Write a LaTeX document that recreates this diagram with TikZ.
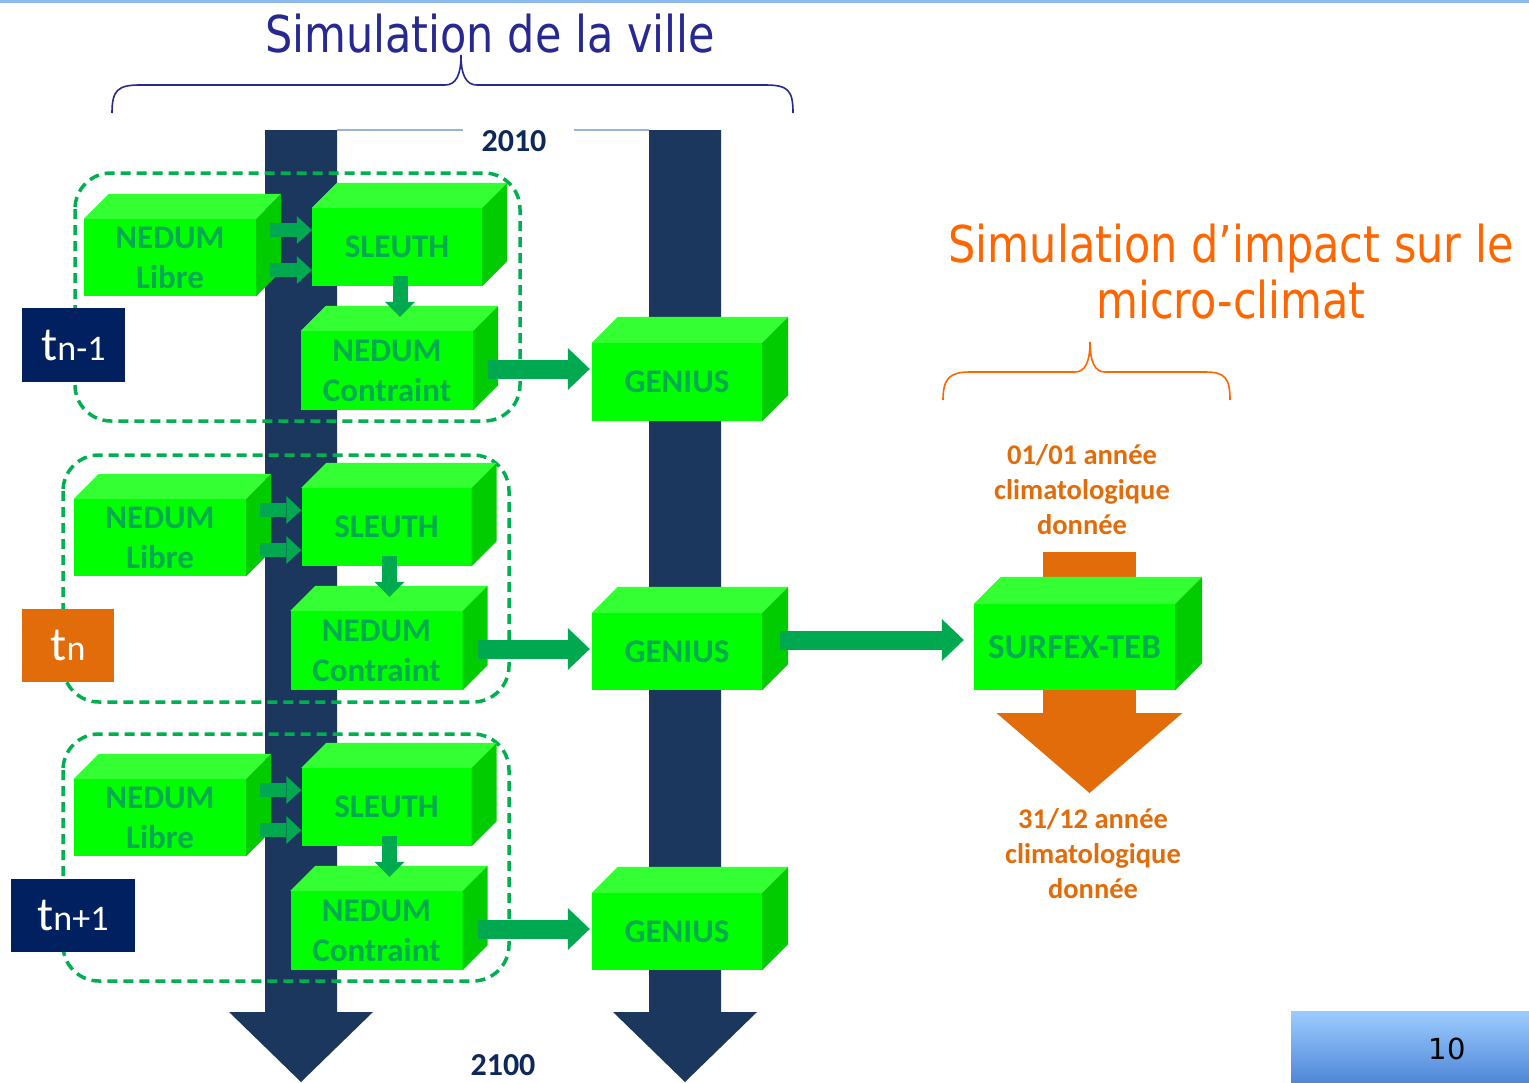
\documentclass[tikz,border=0pt]{standalone}
\usepackage{fontspec}
\setmainfont{Carlito}
\newfontfamily\headfont{DejaVu Sans}
\usetikzlibrary{arrows.meta}

\definecolor{navybar}{RGB}{27,55,94}
\definecolor{labelnavy}{RGB}{0,32,96}
\definecolor{labelorange}{RGB}{227,108,10}
\definecolor{titleorange}{RGB}{255,102,0}
\definecolor{titleblue}{RGB}{40,40,145}
\definecolor{dashgreen}{RGB}{0,176,80}
\definecolor{arrgreen}{RGB}{0,168,80}
\definecolor{boxfront}{RGB}{0,255,0}
\definecolor{boxtop}{RGB}{51,255,51}
\definecolor{boxside}{RGB}{0,204,0}
\definecolor{boxtext}{RGB}{0,170,80}
\definecolor{yearnavy}{RGB}{15,40,90}
\definecolor{joinline}{RGB}{150,178,220}
\definecolor{topline}{RGB}{140,185,240}

% 3D box: name, centre x, centre y, width, height, depth, text
\newcommand\cubebox[7]{%
  \node[cubefront, minimum width=#4pt, minimum height=#5pt] (#1) at (#2,#3) {#7};
  \fill[boxtop] (#1.north west) -- ([shift={(#6,-#6)}]#1.north west)
    -- ([shift={(#6,-#6)}]#1.north east) -- (#1.north east) -- cycle;
  \fill[boxside] (#1.north east) -- ([shift={(#6,-#6)}]#1.north east)
    -- ([shift={(#6,-#6)}]#1.south east) -- (#1.south east) -- cycle;
}

\begin{document}
\begin{tikzpicture}[x=1pt,y=-1pt,
  cubefront/.style={fill=boxfront, inner sep=0pt, align=center, text=boxtext,
    font=\bfseries\fontsize{33}{40}\selectfont},
  grpbox/.style={draw=dashgreen, line width=3.5pt, dash pattern=on 10pt off 6pt,
    rounded corners=36pt},
  smallarr/.style={draw=arrgreen, line width=14pt,
    -{Triangle[width=28pt,length=15pt,line width=0pt]}},
  bigarr/.style={draw=arrgreen, line width=19pt,
    -{Triangle[width=42pt,length=22pt,line width=0pt]}},
  tlabel/.style={inner sep=0pt, text=white, font=\fontsize{36}{36}\selectfont},
  year/.style={text=yearnavy, font=\bfseries\fontsize{32}{32}\selectfont},
  climtext/.style={text=labelorange, align=center,
    font=\bfseries\fontsize{28.5}{35}\selectfont},
]
\useasboundingbox (0,0) rectangle (1529,1082);
\fill[white] (0,0) rectangle (1529,1082);
\fill[topline] (0,0) rectangle (1529,3);

% titles and braces
\node[anchor=base, text=titleblue, font=\headfont\fontsize{43}{43}\selectfont]
  (villetitle) at (490,52) {\scalebox{1}[1.18]{Simulation de la ville}};
\draw[titleblue, line width=1.6pt] (112,113) .. controls (112,90) and (118,85) .. (140,85)
  -- (445,85) .. controls (456,85) and (461,75) .. (461,55)
  .. controls (461,75) and (466,85) .. (477,85) -- (765,85)
  .. controls (788,85) and (793,90) .. (793,113);

\node[text=titleorange, align=center, font=\headfont\fontsize{43}{56}\selectfont]
  (climattitle) at (1231,272)
  {\scalebox{1}[1.18]{Simulation d’impact sur le}\\\scalebox{1}[1.18]{micro-climat}};
\draw[titleorange, line width=1.6pt] (943,400) .. controls (943,378) and (950,372) .. (970,372)
  -- (1075,372) .. controls (1085,372) and (1090,362) .. (1090,342)
  .. controls (1090,362) and (1095,372) .. (1105,372) -- (1205,372)
  .. controls (1225,372) and (1230,378) .. (1230,400);

% time axes
\fill[navybar] (265,130) -- (337,130) -- (337,1012) -- (373,1012) -- (301,1082)
  -- (229,1012) -- (265,1012) -- cycle;
\fill[navybar] (649,130) -- (721,130) -- (721,1012) -- (757,1012) -- (685,1082)
  -- (613,1012) -- (649,1012) -- cycle;
\node[year] (y2010) at (514,141) {2010};
\node[year] (y2100) at (503,1065) {2100};
\draw[joinline, line width=1.5pt] (337,130) -- ([xshift=-15pt]y2010.west |- 0,130);
\draw[joinline, line width=1.5pt] ([xshift=24pt]y2010.east |- 0,130) -- (649,130);

% time-step groups
\draw[grpbox] (75,173) rectangle (520,421);
\draw[grpbox] (63,455) rectangle (509,702);
\draw[grpbox] (63,734) rectangle (509,981);

% climate input / output arrow
\coordinate (climin) at (1089.5,552);
\coordinate (climout) at (1089.5,793);
\draw[draw=labelorange, line width=93pt,
  -{Triangle[width=186pt,length=80pt,line width=0pt]}] (climin) -- (climout);

% boxes
\cubebox{L1}{170}{257.5}{172}{77}{25}{NEDUM\\Libre}
\cubebox{S1}{397}{247}{170}{78}{25}{SLEUTH}
\cubebox{C1}{387}{370.5}{172}{79}{25}{NEDUM\\Contraint}
\cubebox{G1}{677}{382}{170}{78}{26}{GENIUS}

\cubebox{L2}{160}{537.5}{172}{77}{25}{NEDUM\\Libre}
\cubebox{S2}{386.5}{527}{170}{78}{25}{SLEUTH}
\cubebox{C2}{376.5}{650.5}{172}{79}{25}{NEDUM\\Contraint}
\cubebox{G2}{677}{651.5}{170}{77}{26}{GENIUS}

\cubebox{L3}{160}{817.5}{172}{77}{25}{NEDUM\\Libre}
\cubebox{S3}{386.5}{807}{170}{78}{25}{SLEUTH}
\cubebox{C3}{376.5}{930.5}{172}{79}{25}{NEDUM\\Contraint}
\cubebox{G3}{677}{931.5}{170}{77}{26}{GENIUS}

\cubebox{X}{1074.5}{647}{201}{86}{27}{\fontsize{35}{40}\selectfont SURFEX-TEB}

% arrows inside each group
\foreach \k in {1,2,3} {
  \coordinate (a\k) at ([shift={(14,-27.5)}]L\k.east);
  \coordinate (b\k) at ([shift={(14,12.5)}]L\k.east);
  \draw[smallarr] (a\k) -- (a\k -| S\k.west);
  \draw[smallarr] (b\k) -- (b\k -| S\k.west);
  \draw[draw=arrgreen, line width=15pt,
    -{Triangle[width=30pt,length=15pt,line width=0pt]}]
    ([shift={(3,-10)}]S\k.south) -- ([shift={(13,-14)}]C\k.north);
  \coordinate (c\k) at ([shift={(15,-1.5)}]C\k.east);
  \draw[bigarr] (c\k) -- ([xshift=-2pt]c\k -| G\k.west);
}
\coordinate (gx) at ([shift={(18,-11.5)}]G2.east);
\draw[bigarr] (gx) -- ([xshift=-10pt]gx -| X.west);

% climate labels
\node[climtext] (clim1) at (1082,490) {01/01 année\\climatologique\\donnée};
\node[climtext] (clim2) at (1093,854) {31/12 année\\climatologique\\donnée};

% time-step labels
\node[tlabel, fill=labelnavy, minimum width=103pt, minimum height=74pt] (tprev) at (73.5,345)
  {{\fontsize{48}{48}\selectfont t}n-1};
\node[tlabel, fill=labelorange, minimum width=92pt, minimum height=73pt] (tcur) at (68,645.5)
  {{\fontsize{48}{48}\selectfont t}n};
\node[tlabel, fill=labelnavy, minimum width=124pt, minimum height=73pt] (tnext) at (73,915.5)
  {{\fontsize{48}{48}\selectfont t}n+1};

% page number
\shade[top color={rgb,255:red,156;green,204;blue,255}, bottom color={rgb,255:red,80;green,136;blue,216}]
  (1291,1011) rectangle (1529,1082);
\node[font=\headfont\fontsize{29}{29}\selectfont, text=black] (pagenum) at (1447,1049) {10};
\end{tikzpicture}
\end{document}
